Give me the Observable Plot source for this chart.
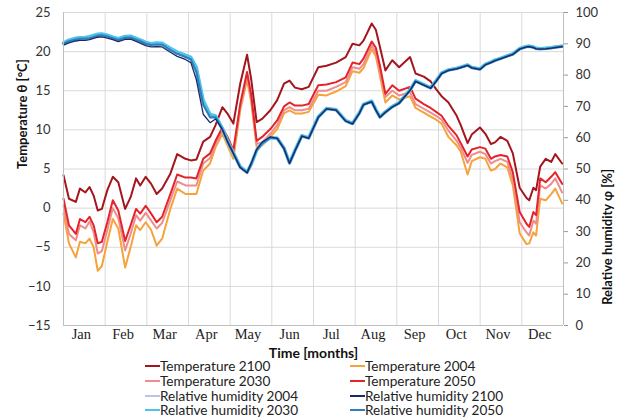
<!DOCTYPE html>
<html>
<head>
<meta charset="utf-8">
<script src="https://cdn.jsdelivr.net/npm/d3@7"></script>
<script src="https://cdn.jsdelivr.net/npm/@observablehq/plot@0.6"></script>
<style>
  html, body { margin: 0; padding: 0; background: #fff; }
  #wrap { position: relative; width: 622px; height: 419px; overflow: hidden; font-family: Lato, "Open Sans", sans-serif; }
  #legend { position: absolute; left: 0; top: 0; width: 622px; height: 419px; pointer-events: none; }
  .item { position: absolute; display: flex; align-items: center; font-size: 13.6px; color: #222; white-space: nowrap; height: 14px; }
  .sw { display: inline-block; width: 15px; height: 2px; margin-right: 0px; }
</style>
</head>
<body>
<div id="wrap"><div id="chart"></div><div id="legend"></div></div>
<script>
// ---- data ----
const months = ["Jan","Feb","Mar","Apr","May","Jun","Jul","Aug","Sep","Oct","Nov","Dec"];
const tempTicks = [-15,-10,-5,0,5,10,15,20,25];
const humTicks = [0,10,20,30,40,50,60,70,80,90,100];

const days = [0,4,9,12,16,19,22,25,28,32,36,40,45,49,53,56,60,64,68,72,78,83,89,93,97,102,107,111,116,120,124,129,134,137,141,145,151,156,161,165,169,174,179,186,192,199,206,211,216,219,225,228,231,235,240,245,253,257,263,268,272,276,281,287,290,295,298,304,308,312,315,319,324,328,333,338,340,343,345,348,352,356,359,364];

const temp2100 = [4.2,1.2,0.8,2.5,2.0,2.7,1.6,-0.3,-0.1,2.3,
 4.0,3.3,-0.1,1.4,3.8,2.9,4.0,3.1,1.8,2.5,
 4.4,6.9,6.3,6.1,6.2,8.5,9.1,10.6,12.9,12.0,
 10.8,15.9,19.6,16.5,11.0,11.4,12.5,13.8,15.9,16.3,
 15.4,15.2,15.5,18.0,18.2,18.6,19.3,21.0,20.8,21.4,
 23.6,22.8,20.6,17.6,18.9,18.0,19.3,17.2,16.8,16.2,
 15.2,14.3,13.5,11.8,10.6,8.3,9.4,10.3,9.5,8.2,
 8.4,9.1,8.6,7.0,2.6,1.3,1.0,2.6,2.3,5.3,
 6.3,5.9,6.9,5.7];
const temp2050 = [1.2,-2.2,-3.3,-1.4,-1.8,-1.1,-2.2,-4.5,-4.3,-1.8,
 1.0,-0.3,-4.2,-2.2,-0.1,-0.7,0.3,-0.7,-1.8,-1.1,
 1.8,4.3,3.9,3.9,3.8,6.3,7.0,8.6,10.3,9.0,
 7.4,13.3,17.4,14.5,8.6,9.1,10.1,11.2,13.0,13.5,
 13.1,13.1,13.3,15.7,15.8,16.1,16.7,18.6,18.4,19.1,
 21.3,20.5,18.2,14.6,15.7,15.0,15.5,14.0,13.3,12.8,
 12.3,11.8,10.5,9.3,8.3,6.6,7.5,7.8,7.6,6.3,
 6.6,6.8,6.6,4.6,-0.5,-2.0,-2.4,-0.5,-0.9,3.8,
 3.3,4.0,4.6,3.1];
const temp2030 = [0.3,-3.3,-4.1,-2.2,-2.6,-1.7,-3.1,-5.8,-5.5,-2.8,
 0.0,-1.3,-5.4,-3.3,-0.9,-1.6,-0.6,-1.6,-2.6,-1.9,
 1.0,3.4,2.9,2.9,2.9,5.7,6.4,8.2,9.9,8.5,
 6.9,12.9,16.8,14.0,8.2,8.4,9.5,10.6,12.5,12.9,
 12.5,12.5,12.7,15.0,15.0,15.5,16.1,18.0,17.8,18.4,
 20.8,19.9,17.5,14.2,15.0,14.4,14.8,13.3,12.7,12.2,
 11.8,11.3,9.9,8.6,7.7,5.8,6.8,7.2,6.9,5.7,
 6.0,6.3,5.9,3.7,-1.8,-3.1,-3.5,-1.6,-2.0,2.9,
 2.5,3.1,3.8,2.0];
const temp2004 = [-0.7,-4.5,-6.3,-4.3,-4.5,-3.9,-5.0,-8.0,-7.4,-4.3,
 -1.4,-2.6,-7.6,-5.0,-2.2,-2.8,-1.8,-2.8,-4.8,-3.9,
 -0.1,2.5,1.8,1.8,1.8,4.8,5.7,7.8,9.5,7.9,
 6.3,12.5,16.4,13.6,7.8,8.0,9.1,10.1,12.1,12.5,
 12.1,12.1,12.3,14.5,14.4,14.9,15.6,17.5,17.3,17.9,
 20.3,19.4,16.9,13.5,14.4,13.9,14.3,12.8,12.2,11.7,
 11.3,10.8,9.1,8.0,7.2,4.3,6.0,6.5,6.3,4.8,
 5.0,5.7,5.2,2.9,-3.2,-4.6,-4.5,-3.1,-3.5,1.2,
 1.0,1.8,2.5,0.6];

const rh2050 = [90.0,90.8,91.4,91.6,91.6,91.8,92.2,92.6,92.7,92.3,
 91.8,91.2,91.9,92.0,91.3,90.8,90.0,89.6,89.8,89.7,
 88.0,86.8,85.8,85.0,81.0,70.5,66.5,66.5,62.6,58.5,
 55.0,50.5,48.8,51.5,56.0,58.2,60.0,59.8,56.5,51.8,
 55.8,60.5,59.8,66.5,69.2,68.8,65.3,64.4,67.8,70.5,
 71.5,68.8,66.5,68.1,69.8,71.0,75.1,78.0,76.8,75.8,
 78.0,80.5,81.5,82.0,82.4,83.1,82.3,81.8,83.3,84.0,
 84.6,85.2,86.0,86.6,88.3,89.0,89.1,88.8,88.4,88.3,
 88.4,88.6,88.8,89.1];
const rh2100 = [89.6,90.3,90.9,91.1,91.1,91.3,91.7,92.1,92.2,91.8,
 91.3,90.7,91.4,91.5,90.8,90.2,89.4,89.0,89.1,89.0,
 87.3,86.0,85.0,84.0,78.5,67.5,64.8,66.0,62.6,58.5,
 55.0,50.5,48.8,51.8,56.3,58.6,60.3,59.8,56.5,51.8,
 55.8,60.5,59.8,66.5,69.2,68.8,65.3,64.4,67.8,70.5,
 71.5,68.8,66.5,68.1,69.8,71.0,75.1,78.0,76.8,75.8,
 78.0,80.5,81.5,82.0,82.4,83.1,82.3,81.8,83.3,84.0,
 84.6,85.2,86.0,86.6,88.3,89.0,89.1,88.8,88.4,88.3,
 88.4,88.6,88.8,89.1];
const rh2030 = [90.3,91.2,91.8,92.0,92.1,92.3,92.7,93.1,93.2,92.8,
 92.2,91.7,92.4,92.5,91.8,91.3,90.5,90.1,90.3,90.2,
 88.6,87.4,86.4,85.7,82.5,72.0,67.5,67.0,63.0,58.8,
 55.2,50.8,49.0,51.5,56.0,58.2,60.0,59.9,56.7,52.0,
 56.0,60.7,60.0,66.7,69.4,69.0,65.5,64.6,68.0,70.7,
 71.7,69.0,66.7,68.3,70.0,71.2,75.3,78.2,77.0,76.0,
 78.2,80.7,81.7,82.2,82.6,83.3,82.5,82.0,83.5,84.2,
 84.8,85.4,86.2,86.8,88.5,89.2,89.3,89.0,88.6,88.5,
 88.6,88.8,89.0,89.3];
const rh2004 = [90.2,91.0,91.6,91.8,91.9,92.1,92.5,92.9,93.0,92.6,
 92.0,91.5,92.2,92.3,91.6,91.1,90.3,89.9,90.1,90.0,
 88.3,87.1,86.1,85.4,81.8,71.3,67.0,66.8,62.8,58.6,
 55.1,50.6,48.9,51.5,56.0,58.2,60.0,59.8,56.6,51.9,
 55.9,60.6,59.9,66.6,69.3,68.9,65.4,64.5,67.9,70.6,
 71.6,68.9,66.6,68.2,69.9,71.1,75.2,78.1,76.9,75.9,
 78.1,80.6,81.6,82.1,82.5,83.2,82.4,81.9,83.4,84.1,
 84.7,85.3,86.1,86.7,88.4,89.1,89.2,88.9,88.5,88.4,
 88.5,88.7,88.9,89.2];

// ---- series definitions ----
const C = {
  t2100: "#a3161e", t2050: "#e3242b", t2030: "#f08c8c", t2004: "#f5a33a",
  h2004: "#b7c6e6", h2100: "#1b2a66", h2030: "#4cc4ec", h2050: "#2f7fb9"
};
const tempSeries = [
  {name: "Temperature 2004", vals: temp2004, color: C.t2004},
  {name: "Temperature 2030", vals: temp2030, color: C.t2030},
  {name: "Temperature 2050", vals: temp2050, color: C.t2050},
  {name: "Temperature 2100", vals: temp2100, color: C.t2100}
];
const humSeries = [
  {name: "Relative humidity 2004", vals: rh2004, color: C.h2004, w: 3.4},
  {name: "Relative humidity 2030", vals: rh2030, color: C.h2030, w: 3.2},
  {name: "Relative humidity 2050", vals: rh2050, color: C.h2050, w: 2.1},
  {name: "Relative humidity 2100", vals: rh2100, color: C.h2100, w: 1.3}
];

// humidity axis (0..100 %) shares the frame with temperature (-15..25 °C)
const hToT = h => -15 + h * 40 / 100;
const tToH = t => (t + 15) * 100 / 40;

const yearLen = 365;
const monthEdges = d3.range(0, 13).map(i => i * yearLen / 12);
const monthCenters = d3.range(0, 12).map(i => (i + 0.5) * yearLen / 12);

const gridColor = "#d9d9d9";
const marks = [
  Plot.ruleY(tempTicks, {stroke: gridColor, strokeWidth: 1}),
  Plot.ruleX(monthEdges, {stroke: gridColor, strokeWidth: 1}),
  Plot.axisY(tempTicks, {anchor: "left", tickSize: 0, tickPadding: 13, fontSize: 13, fontFamily: "Lato", fill: "#333", label: null}),
  Plot.axisY(humTicks.map(hToT), {anchor: "right", tickSize: 4, tickPadding: 8, stroke: "#999", fontSize: 13, fontFamily: "Lato", fill: "#333", textAnchor: "start", tickFormat: t => String(Math.round(tToH(t))), label: null}),
  Plot.axisX(monthCenters, {anchor: "bottom", tickSize: 0, tickPadding: 3, dx: -3, fontSize: 14.5, fontFamily: "Liberation Serif", fill: "#222", tickFormat: (d, i) => months[i], label: null})
];
for (const s of tempSeries) {
  marks.push(Plot.line(days.map((d, i) => ({d, v: s.vals[i]})), {x: "d", y: "v", stroke: s.color, strokeWidth: 2, curve: "linear"}));
}
for (const s of humSeries) {
  marks.push(Plot.line(days.map((d, i) => ({d, v: hToT(s.vals[i])})), {x: "d", y: "v", stroke: s.color, strokeWidth: s.w, curve: "linear"}));
}
marks.push(
  Plot.text(["Time [months]"], {frameAnchor: "bottom", dy: 28, lineAnchor: "middle", fontWeight: "bold", fontSize: 14, fontFamily: "Lato", fill: "#111"}),
  Plot.text(["Temperature θ [°C]"], {frameAnchor: "left", dx: -41, rotate: -90, lineAnchor: "middle", fontWeight: "bold", fontSize: 13, fontFamily: "Lato", fill: "#111"}),
  Plot.text(["Relative humidity φ [%]"], {frameAnchor: "right", dx: 44, rotate: -90, lineAnchor: "middle", fontWeight: "bold", fontSize: 13, fontFamily: "Lato", fill: "#111"}),
  Plot.ruleY([-15], {stroke: "#bfbfbf"}),
  Plot.ruleX([0, yearLen], {stroke: "#bfbfbf"})
);

const chart = Plot.plot({
  width: 622,
  height: 360,
  marginTop: 12,
  marginLeft: 63,
  marginRight: 59,
  marginBottom: 35,
  x: {domain: [0, yearLen], axis: null},
  y: {domain: [-15, 25], axis: null},
  style: {background: "#fff", overflow: "visible"},
  marks
});
document.getElementById("chart").appendChild(chart);

// ---- legend (two columns, order as in the reference) ----
const legendOrder = [
  ["Temperature 2100", C.t2100], ["Temperature 2004", C.t2004],
  ["Temperature 2030", C.t2030], ["Temperature 2050", C.t2050],
  ["Relative humidity 2004", C.h2004], ["Relative humidity 2100", C.h2100],
  ["Relative humidity 2030", C.h2030], ["Relative humidity 2050", C.h2050]
];
const leg = document.getElementById("legend");
legendOrder.forEach(([name, color], i) => {
  const col = i % 2, row = Math.floor(i / 2);
  const el = document.createElement("div");
  el.className = "item";
  el.style.left = (col === 0 ? 145 : 350) + "px";
  el.style.top = (359 + row * 14.8) + "px";
  const sw = document.createElement("span");
  sw.className = "sw";
  sw.style.background = color;
  el.appendChild(sw);
  el.appendChild(document.createTextNode(name));
  leg.appendChild(el);
});
</script>
</body>
</html>
